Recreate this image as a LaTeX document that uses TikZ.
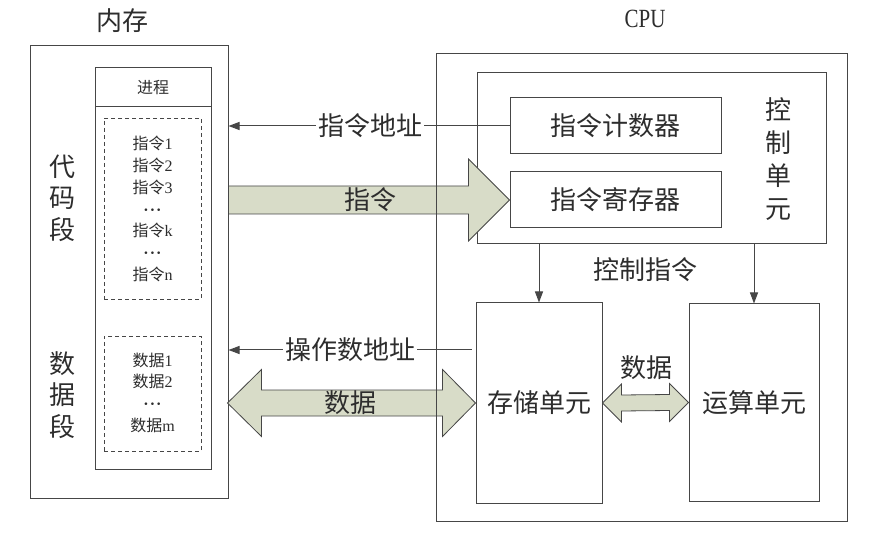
\documentclass[tikz,border=0pt]{standalone}
\usepackage{fontspec}
\setmainfont{Liberation Serif}
\newfontfamily\cjk{Noto Sans CJK SC}
\usetikzlibrary{arrows.meta,calc}
\definecolor{ln}{RGB}{70,70,70}
\definecolor{tx}{RGB}{45,45,45}
\definecolor{fatfill}{RGB}{216,220,200}
\newcommand{\mydots}{\textbf{·\kern1pt·\kern1pt·}}
\begin{document}
\begin{tikzpicture}[x=1pt,y=-1pt,
  box/.style={draw=ln,line width=1pt,inner sep=0pt},
  dbox/.style={draw=ln,line width=0.8pt,dashed,dash pattern=on 4pt off 3pt,inner sep=0pt},
  big/.style={text=tx,font=\cjk\fontsize{26}{31}\selectfont,inner sep=1pt},
  small/.style={text=tx,font=\fontsize{16}{21.7}\selectfont,align=center,inner sep=0pt},
  thin/.style={draw=ln,line width=1pt},
  tip/.style={-{Triangle[length=11pt,width=8pt]}},
  fat/.style={draw=ln,line width=0.8pt,fill=fatfill}]
\useasboundingbox (0,0) rectangle (879,540);
\fill[white] (0,0) rectangle (879,540);
% titles
\node[big] (memt) at (122,21) {内存};
\node[text=tx,font=\fontsize{21}{24}\selectfont,yscale=1.25] (cput) at (645,19) {CPU};
% memory
\node[box,minimum width=198pt,minimum height=452pt] (mem) at (129,272) {};
\node[box,minimum width=116pt,minimum height=401pt] (proc) at (153,268.5) {};
\node[box,minimum width=116pt,minimum height=39pt,small,font=\cjk\fontsize{16}{20}\selectfont] (hdr) at (153,87.5) {进程};
\node[dbox,minimum width=97pt,minimum height=181pt] (code) at (152.5,208.5) {};
\node[dbox,minimum width=97pt,minimum height=115pt] (data) at (152.5,393.5) {};
\node[small] (codet) at (152.5,209) {{\cjk 指令}1\\{\cjk 指令}2\\{\cjk 指令}3\\\mydots\\{\cjk 指令}k\\\mydots\\{\cjk 指令}n};
\node[small] (datat) at (152.5,392.5) {{\cjk 数据}1\\{\cjk 数据}2\\\mydots\\{\cjk 数据}m};
\node[big,align=center,font=\cjk\fontsize{26}{31.5}\selectfont] (codeseg) at (62,198) {代\\码\\段};
\node[big,align=center,font=\cjk\fontsize{26}{31.5}\selectfont] (dataseg) at (62,395) {数\\据\\段};
% CPU inner
\node[box,minimum width=349pt,minimum height=171pt] (ctrl) at (651.5,158.5) {};
\node[box,big,minimum width=211pt,minimum height=56pt] (pc) at (615.5,126) {指令计数器};
\node[box,big,minimum width=211pt,minimum height=56pt] (ir) at (615.5,200) {指令寄存器};
\node[big,align=center,font=\cjk\fontsize{26}{33}\selectfont] (ctrlt) at (778,159) {控\\制\\单\\元};
\node[box,big,minimum width=126pt,minimum height=200pt] (store) at (539,403) {存储单元};
\node[box,big,minimum width=130pt,minimum height=197pt] (alu) at (754,402.5) {运算单元};
% control arrows
\draw[thin,tip] (store.north |- ctrl.south) -- (store.north);
\draw[thin,tip] (alu.north |- ctrl.south) -- (alu.north);
\node[big] (ctrlcmd) at (645,270) {控制指令};
% address arrows
\draw[thin,tip] (pc.west) -- (mem.east |- pc.west)
  node[pos=0.495,big,fill=white,inner xsep=2pt,inner ysep=0pt] (pcaddr) {指令地址};
\coordinate (oa) at ($(store.west |- 0,350)+(-4,0)$);
\draw[thin,tip] (oa) -- (mem.east |- oa)
  node[pos=0.5,big,fill=white,inner xsep=2pt,inner ysep=0pt] (opaddr) {操作数地址};
% fat instruction arrow
\coordinate (ia) at (mem.east |- ir.west);
\draw[fat] ($(ia)+(0,-14)$) -- ($(ir.west)+(-41,-14)$) -- ($(ir.west)+(-41,-41)$) -- (ir.west)
  -- ($(ir.west)+(-41,41)$) -- ($(ir.west)+(-41,14)$) -- ($(ia)+(0,14)$) -- cycle;
\node[big] (instr) at (370,200) {指令};
% fat data arrow memory <-> storage
\coordinate (da) at ($(mem.east |- store.west)+(-1,0)$);
\draw[fat] (da) -- ($(da)+(34,-33.5)$) -- ($(da)+(34,-13)$) -- ($(store.west)+(-33,-13)$)
  -- ($(store.west)+(-33,-33.5)$) -- (store.west) -- ($(store.west)+(-33,33.5)$)
  -- ($(store.west)+(-33,13)$) -- ($(da)+(34,13)$) -- ($(da)+(34,33.5)$) -- cycle;
\node[big] (datalbl) at (350,403) {数据};
% fat data arrow storage <-> alu
\draw[fat] (store.east) -- ($(store.east)+(19,-19)$) -- ($(store.east)+(19,-8)$) -- ($(alu.west)+(-19,-8)$)
  -- ($(alu.west)+(-19,-19)$) -- (alu.west) -- ($(alu.west)+(-19,19)$) -- ($(alu.west)+(-19,8)$)
  -- ($(store.east)+(19,8)$) -- ($(store.east)+(19,19)$) -- cycle;
\node[big] (data2) at (646,368) {数据};
% CPU outer box on top
\node[box,minimum width=411pt,minimum height=467pt] (cpu) at (641.5,287.5) {};
\end{tikzpicture}
\end{document}
